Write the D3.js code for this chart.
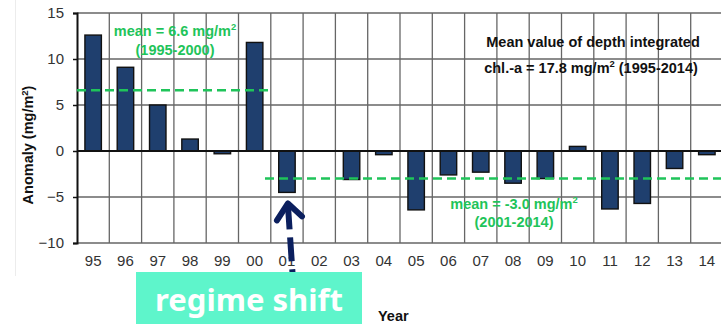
<!DOCTYPE html>
<html>
<head>
<meta charset="utf-8">
<script src="https://cdn.jsdelivr.net/npm/d3@7"></script>
<style>
  html, body { margin: 0; padding: 0; background: #fff; }
  svg { display: block; }
</style>
</head>
<body>
<svg id="chart" width="721" height="324"></svg>
<script>
// Depth-integrated chl.-a anomaly per year
const years = ["95","96","97","98","99","00","01","02","03","04","05","06","07","08","09","10","11","12","13","14"];
const anomaly = [12.6, 9.1, 5.0, 1.3, -0.3, 11.8, -4.5, 0, -3.1, -0.4, -6.4, -2.6, -2.3, -3.5, -3.0, 0.5, -6.3, -5.7, -1.9, -0.4];
const yTicks = [15, 10, 5, 0, -5, -10];

// Period means
const meanEarly = 6.6;   // 1995-2000
const meanLate = -3.0;   // 2001-2014

const svg = d3.select("#chart");
const plotLeft = 77, plotRight = 723, plotTop = 13, plotBottom = 243;

const x = d3.scaleBand().domain(years).range([plotLeft, plotRight]).padding(0);
const y = d3.scaleLinear().domain([-10, 15]).range([plotBottom, plotTop]);

const green = "#1fc45a";
const navy = "#1f3f6e";
const font = "Liberation Sans, Arial, sans-serif";
const noteSize = 14.5;

// faint frame of the plot image
svg.append("line").attr("x1", 15.5).attr("x2", 15.5).attr("y1", 0).attr("y2", 276)
  .attr("stroke", "#ececec").attr("stroke-width", 1);

// horizontal grid
svg.append("g").selectAll("line").data(yTicks.filter(d => d !== 0)).join("line")
  .attr("x1", plotLeft).attr("x2", plotRight)
  .attr("y1", d => y(d)).attr("y2", d => y(d))
  .attr("stroke", "#666").attr("stroke-width", 1.3);

// vertical grid at category boundaries
svg.append("g").selectAll("line").data(years.slice(1)).join("line")
  .attr("x1", d => x(d)).attr("x2", d => x(d))
  .attr("y1", y(15)).attr("y2", y(-10))
  .attr("stroke", "#666").attr("stroke-width", 1.3);

// bars
const bw = x.bandwidth() * 0.51;
svg.append("g").selectAll("rect").data(years.map((yr, i) => ({yr, v: anomaly[i]})).filter(d => d.v !== 0)).join("rect")
  .attr("x", d => x(d.yr) + (x.bandwidth() - bw) / 2)
  .attr("width", bw)
  .attr("y", d => y(Math.max(0, d.v)))
  .attr("height", d => Math.abs(y(d.v) - y(0)))
  .attr("fill", navy).attr("stroke", "#111").attr("stroke-width", 1.4);

// zero line
svg.append("line").attr("x1", plotLeft).attr("x2", plotRight).attr("y1", y(0)).attr("y2", y(0))
  .attr("stroke", "#111").attr("stroke-width", 1.8);

// left axis
const yAxis = d3.axisLeft(y).tickValues(yTicks).tickSize(4).tickPadding(9);
const ga = svg.append("g").attr("transform", `translate(${plotLeft},0)`).call(yAxis);
ga.select(".domain").attr("stroke", "#111").attr("stroke-width", 2);
ga.selectAll(".tick line").attr("stroke", "#111").attr("stroke-width", 1.5);
ga.selectAll(".tick text").attr("font-family", font)
  .attr("font-size", 15).attr("fill", "#333");

// bottom labels
svg.append("g").selectAll("text").data(years).join("text")
  .attr("x", d => x(d) + x.bandwidth() / 2)
  .attr("y", 266)
  .attr("text-anchor", "middle")
  .attr("font-family", font)
  .attr("font-size", 15).attr("fill", "#333")
  .text(d => d);

// mean lines
svg.append("line").attr("x1", plotLeft).attr("x2", 270)
  .attr("y1", y(meanEarly)).attr("y2", y(meanEarly))
  .attr("stroke", green).attr("stroke-width", 2.5).attr("stroke-dasharray", "9,5");
svg.append("line").attr("x1", 265).attr("x2", plotRight)
  .attr("y1", y(meanLate)).attr("y2", y(meanLate))
  .attr("stroke", green).attr("stroke-width", 2.5).attr("stroke-dasharray", "9,5");

function textWithSup(g, px, py, before, sup, after, opts) {
  const t = g.append("text").attr("x", px).attr("y", py)
    .attr("text-anchor", "middle")
    .attr("font-family", font)
    .attr("font-weight", "bold").attr("font-size", opts.size).attr("fill", opts.fill);
  t.append("tspan").text(before);
  t.append("tspan").attr("font-size", opts.size * 0.65).attr("dy", -opts.size * 0.38).text(sup);
  if (after) t.append("tspan").attr("dy", opts.size * 0.38).text(after);
  return t;
}

const lbl = svg.append("g");
textWithSup(lbl, 175, 36, "mean = " + meanEarly.toFixed(1) + " mg/m", "2", "", {size: noteSize, fill: green});
lbl.append("text").attr("x", 175).attr("y", 55).attr("text-anchor", "middle")
  .attr("font-family", font).attr("font-weight", "bold")
  .attr("font-size", noteSize).attr("fill", green).text("(1995-2000)");

textWithSup(lbl, 514, 209, "mean = " + meanLate.toFixed(1) + " mg/m", "2", "", {size: noteSize, fill: green});
lbl.append("text").attr("x", 514).attr("y", 227).attr("text-anchor", "middle")
  .attr("font-family", font).attr("font-weight", "bold")
  .attr("font-size", noteSize).attr("fill", green).text("(2001-2014)");

// overall mean note
lbl.append("text").attr("x", 593).attr("y", 47).attr("text-anchor", "middle")
  .attr("font-family", font).attr("font-weight", "bold")
  .attr("font-size", noteSize).attr("fill", "#111").text("Mean value of depth integrated");
textWithSup(lbl, 591, 73, "chl.-a = 17.8 mg/m", "2", " (1995-2014)", {size: noteSize, fill: "#111"});

// y-axis title
const yt = svg.append("text").attr("transform", "translate(33,145) rotate(-90)")
  .attr("text-anchor", "middle")
  .attr("font-family", font).attr("font-weight", "bold")
  .attr("font-size", 14.5).attr("fill", "#111");
yt.append("tspan").text("Anomaly (mg/m");
yt.append("tspan").attr("font-size", 9.5).attr("dy", -5).text("2");
yt.append("tspan").attr("dy", 5).text(")");

// x-axis title
svg.append("text").attr("x", 378).attr("y", 321)
  .attr("font-family", font).attr("font-weight", "bold")
  .attr("font-size", 14.5).attr("fill", "#111").text("Year");

// regime shift arrow pointing at 2001
const ax = x("01") + x.bandwidth() / 2;
const tipY = y(anomaly[6]) + 11;
svg.append("line").attr("x1", ax + 1).attr("y1", tipY + 2).attr("x2", ax + 9).attr("y2", 324)
  .attr("stroke", "#0b1f5e").attr("stroke-width", 6).attr("stroke-dasharray", "24,8");
svg.append("path")
  .attr("d", `M${ax - 10},${tipY + 17} L${ax + 1},${tipY} L${ax + 15},${tipY + 13}`)
  .attr("fill", "none").attr("stroke", "#0b1f5e").attr("stroke-width", 6)
  .attr("stroke-linecap", "round").attr("stroke-linejoin", "round");

// regime shift tag
svg.append("rect").attr("x", 136).attr("y", 272).attr("width", 226).attr("height", 52)
  .attr("fill", "#5ef5cb");
svg.append("text").attr("x", 249).attr("y", 311).attr("text-anchor", "middle")
  .attr("font-family", "Noto Sans, sans-serif").attr("font-weight", "bold")
  .attr("font-size", 31).attr("fill", "#fff").text("regime shift");
</script>
</body>
</html>
